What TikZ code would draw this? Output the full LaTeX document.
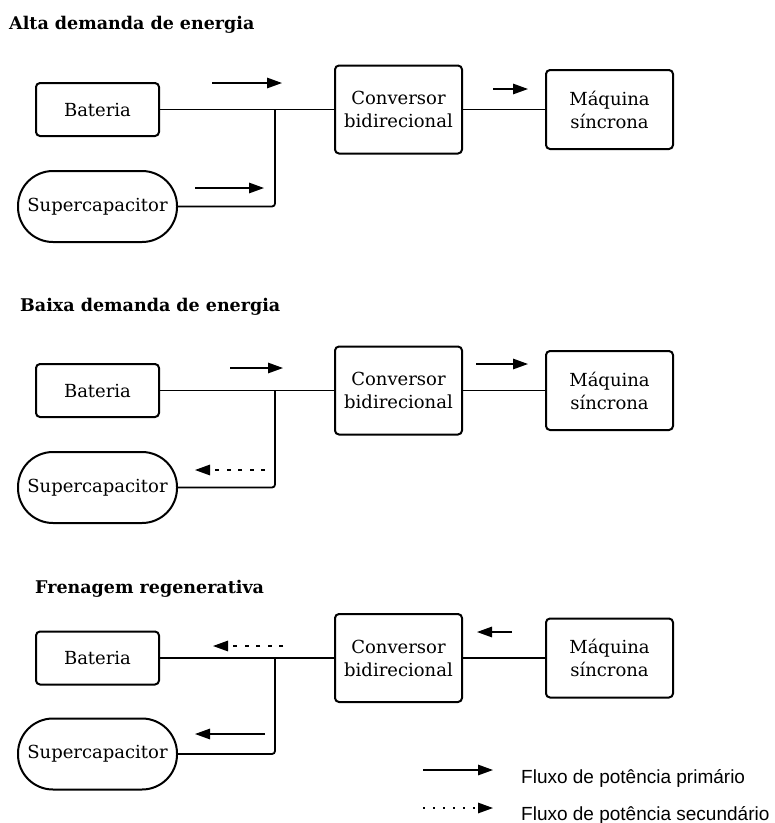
\documentclass[tikz,border=0pt]{standalone}
\usepackage{fontspec}
\setmainfont{DejaVu Serif}
\newfontfamily\legendfont{Liberation Sans}
\usetikzlibrary{arrows.meta}
\tikzset{
  blk/.style={draw, line width=2pt, rounded corners=4pt, align=center, inner sep=0pt,
    font=\fontsize{18}{23}\selectfont},
  bat/.style={blk, minimum width=123pt, minimum height=53pt},
  conv/.style={blk, minimum width=127pt, minimum height=88pt},
  maq/.style={blk, minimum width=127pt, minimum height=79pt},
  stad/.style={draw, line width=2pt, rounded corners=35pt, inner sep=0pt,
    minimum width=159pt, minimum height=71pt, font=\fontsize{18}{23}\selectfont},
  ttl/.style={anchor=base west, inner sep=0pt, font=\bfseries\fontsize{17.5}{21}\selectfont},
  wire/.style={line width=1.8pt},
  flow/.style={line width=1.4pt, -{Triangle[length=15pt,width=10.5pt]}},
  sflow/.style={flow, dash pattern=on 4pt off 7.5pt},
  dflow/.style={flow, dash pattern=on 2pt off 8pt},
  leg/.style={anchor=base west, inner sep=0pt, font=\legendfont\fontsize{19}{23}\selectfont}
}
\begin{document}
\begin{tikzpicture}[x=1pt,y=-1pt]
\useasboundingbox (0,0) rectangle (775,823);
% ---------- Section 1 ----------
\node[ttl] (t1) at (9,29.5) {Alta demanda de energia};
\node[bat] (bat1) at (97.5,109.5) {Bateria};
\node[stad] (sc1) at (97.5,206.5) {Supercapacitor};
\node[conv] (conv1) at (398.5,109.5) {Conversor\\bidirecional};
\node[maq] (maq1) at (609.5,109.5) {Máquina\\síncrona};
\coordinate (j1) at (275,109.5);
\draw[wire] (bat1.east) -- (conv1.west);
\draw[wire, rounded corners=3pt] (j1) |- (sc1.east);
\draw[wire] (conv1.east) -- (maq1.west);
\coordinate (a1s) at (212,83); \coordinate (a1e) at (282,83);
\coordinate (b1s) at (195,188); \coordinate (b1e) at (264,188);
\coordinate (c1s) at (493,89); \coordinate (c1e) at (528,89);
\draw[flow] (a1s) -- (a1e);
\draw[flow] (b1s) -- (b1e);
\draw[flow] (c1s) -- (c1e);
% ---------- Section 2 ----------
\node[ttl] (t2) at (20,311) {Baixa demanda de energia};
\node[bat] (bat2) at (97.5,390.5) {Bateria};
\node[stad] (sc2) at (97.5,487.5) {Supercapacitor};
\node[conv] (conv2) at (398.5,390.5) {Conversor\\bidirecional};
\node[maq] (maq2) at (609.5,390.5) {Máquina\\síncrona};
\coordinate (j2) at (275,390.5);
\draw[wire] (bat2.east) -- (conv2.west);
\draw[wire, rounded corners=3pt] (j2) |- (sc2.east);
\draw[wire] (conv2.east) -- (maq2.west);
\coordinate (a2s) at (230,368); \coordinate (a2e) at (283,368);
\coordinate (b2s) at (265,470); \coordinate (b2e) at (195,470);
\coordinate (c2s) at (476,364); \coordinate (c2e) at (528,364);
\draw[flow] (a2s) -- (a2e);
\draw[sflow] (b2s) -- (b2e);
\draw[flow] (c2s) -- (c2e);
% ---------- Section 3 ----------
\node[ttl] (t3) at (35,593) {Frenagem regenerativa};
\node[bat] (bat3) at (97.5,658) {Bateria};
\node[stad] (sc3) at (97.5,754) {Supercapacitor};
\node[conv] (conv3) at (398.5,658) {Conversor\\bidirecional};
\node[maq] (maq3) at (609.5,658) {Máquina\\síncrona};
\coordinate (j3) at (275,658);
\draw[wire] (bat3.east) -- (conv3.west);
\draw[wire, rounded corners=3pt] (j3) |- (sc3.east);
\draw[wire] (conv3.east) -- (maq3.west);
\coordinate (a3s) at (283,646); \coordinate (a3e) at (213,646);
\coordinate (b3s) at (265,734); \coordinate (b3e) at (195,734);
\coordinate (c3s) at (512,632); \coordinate (c3e) at (477,632);
\draw[sflow] (a3s) -- (a3e);
\draw[flow] (b3s) -- (b3e);
\draw[flow] (c3s) -- (c3e);
% ---------- Legend ----------
\coordinate (l1s) at (423,770); \coordinate (l1e) at (493,770);
\coordinate (l2s) at (423,808); \coordinate (l2e) at (493,808);
\draw[flow] (l1s) -- (l1e);
\draw[dflow] (l2s) -- (l2e);
\node[leg] (lt1) at (521,783) {Fluxo de potência primário};
\node[leg] (lt2) at (521,820) {Fluxo de potência secundário};
\end{tikzpicture}
\end{document}
